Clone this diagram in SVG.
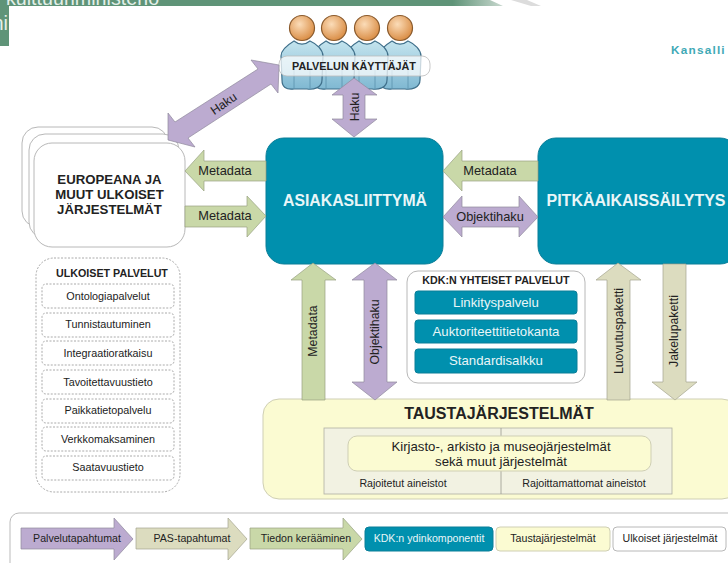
<svg xmlns="http://www.w3.org/2000/svg" width="728" height="563" viewBox="0 0 728 563">
<style>
text{font-family:"Liberation Sans",Arial,sans-serif;text-anchor:middle;fill:#222}
.b{font-weight:bold}
.w{fill:#e9f6f8}
.teal{fill:#0090ae;stroke:#0b7e98;stroke-width:1}
.pur{fill:#bcabd0;stroke:#8f8a9c;stroke-width:.7}
.grn{fill:#c9d8a8;stroke:#98a283;stroke-width:.7}
.tan{fill:#dcdcbf;stroke:#a5a58f;stroke-width:.7}
.lab{font-size:12.3px}
.lah{font-size:12.8px}
.svc{fill:#fff;stroke:#aaa;stroke-width:1;stroke-dasharray:2 1.5}
.itm{font-size:10.8px}
.sta{fill:#fff;stroke:#b8b8b8;stroke-width:1}
.yel{fill:#fbfbd2;stroke:#cfcfb4;stroke-width:1}
.leg{font-size:10.6px}
.kdk{font-size:13.2px}
</style>
<defs>
<radialGradient id="head" cx=".4" cy=".35" r=".7"><stop offset="0" stop-color="#fbdcb8"/><stop offset="1" stop-color="#d8893f"/></radialGradient>
<linearGradient id="body" x1="0" x2="0" y1="0" y2="1"><stop offset="0" stop-color="#c4e4ee"/><stop offset="1" stop-color="#7fb8d2"/></linearGradient>
<linearGradient id="fade" x1="0" x2="1" y1="0" y2="0"><stop offset="0" stop-color="#5f9478"/><stop offset=".9" stop-color="#5f9478"/><stop offset="1" stop-color="#c9d8cf"/></linearGradient>
<g id="person">
<path d="M-21 14C-21 7-13 2-8-1C-3 3 3 3 8-1C15 2 21 8 21 14L20 38C20 46 11 48 5 47L-8 47C-16 48-20 45-20 38Z" fill="url(#body)" stroke="#3f6f8a" stroke-width="1.2"/>
<path d="M-8 47V28M8 47V28" fill="none" stroke="#5a92ad" stroke-width=".8"/>
<circle cx="0" cy="-14" r="12.5" fill="url(#head)" stroke="#8a5a2c" stroke-width="1.2"/>
</g>
</defs>
<rect width="728" height="563" fill="#fff"/>
<g id="header">
<path d="M0 0H490L503 6H9V46H0Z" fill="url(#fade)"/>
<polygon points="511,0 527,0 541,6 531,6" fill="#dcdcdc"/>
<text x="82.5" y="5" font-size="19.7" style="fill:#e3efe8">kulttuuriministeriö</text>
<text x="8" y="30" font-size="20" style="fill:#e3efe8;text-anchor:end">ni</text>
<text x="671" y="54" font-size="11.8" class="b" letter-spacing="1.2" style="fill:#3fa9b6;text-anchor:start">Kansalli</text>
</g>
<g id="users">
<use href="#person" x="400" y="42"/>
<use href="#person" x="367" y="42"/>
<use href="#person" x="334" y="42"/>
<use href="#person" x="302" y="42"/>
<rect x="279" y="56" width="151" height="20" rx="8" fill="#fff" fill-opacity=".72" stroke="#bbb" stroke-width=".8"/>
<text x="354" y="70" font-size="10.8" class="b">PALVELUN KÄYTTÄJÄT</text>
</g>
<g id="europeana">
<rect class="sta" x="22" y="127" width="146" height="100" rx="16"/>
<rect class="sta" x="29" y="134" width="150" height="104" rx="16"/>
<rect class="sta" x="34" y="143" width="151" height="104" rx="18"/>
<text x="109.500" y="184" font-size="13.2" class="b">EUROPEANA JA</text>
<text x="109.500" y="199" font-size="13.2" class="b">MUUT ULKOISET</text>
<text x="109.500" y="214" font-size="13.2" class="b">JÄRJESTELMÄT</text>
</g>
<g id="asiakasliittyma">
<rect class="teal" x="266" y="138" width="177" height="126" rx="18"/>
<text class="b w" x="355" y="206" font-size="15.8">ASIAKASLIITTYMÄ</text>
</g>
<g id="pitkaaikaissailytys">
<rect class="teal" x="538" y="138" width="200" height="126" rx="18"/>
<text class="b w" x="636" y="206" font-size="16">PITKÄAIKAISSÄILYTYS</text>
</g>
<g id="ulkoiset-palvelut">
<rect class="svc" x="36" y="258" width="144" height="234" rx="18"/>
<text x="112" y="277" font-size="10.7" class="b">ULKOISET PALVELUT</text>
<rect class="svc" x="42" y="284" width="132" height="24" rx="4"/><text class="itm" x="108" y="300">Ontologiapalvelut</text>
<rect class="svc" x="42" y="313" width="132" height="24" rx="4"/><text class="itm" x="108" y="328">Tunnistautuminen</text>
<rect class="svc" x="42" y="341" width="132" height="24" rx="4"/><text class="itm" x="108" y="357">Integraatioratkaisu</text>
<rect class="svc" x="42" y="370" width="132" height="24" rx="4"/><text class="itm" x="108" y="386">Tavoitettavuustieto</text>
<rect class="svc" x="42" y="399" width="132" height="24" rx="4"/><text class="itm" x="108" y="414">Paikkatietopalvelu</text>
<rect class="svc" x="42" y="427" width="132" height="24" rx="4"/><text class="itm" x="108" y="443">Verkkomaksaminen</text>
<rect class="svc" x="42" y="456" width="132" height="24" rx="4"/><text class="itm" x="108" y="471">Saatavuustieto</text>
</g>
<g id="kdk-palvelut">
<rect class="sta" x="407" y="271" width="178" height="112" rx="11"/>
<text x="496" y="284" font-size="10.7" class="b">KDK:N YHTEISET PALVELUT</text>
<rect class="teal" x="415" y="291" width="162" height="23" rx="3"/><text class="w kdk" x="496" y="307">Linkityspalvelu</text>
<rect class="teal" x="415" y="320" width="162" height="23" rx="3"/><text class="w kdk" x="496" y="336">Auktoriteettitietokanta</text>
<rect class="teal" x="415" y="349" width="162" height="24" rx="3"/><text class="w kdk" x="496" y="365">Standardisalkku</text>
</g>
<g id="taustajarjestelmat">
<rect class="yel" x="263" y="399" width="475" height="100" rx="16"/>
<text x="499" y="419" font-size="16" class="b">TAUSTAJÄRJESTELMÄT</text>
<rect x="324" y="428" width="348" height="66" fill="#f2f2e2" stroke="#b0b0a4" stroke-width=".8"/>
<path d="M501 428V494" stroke="#9a9a90" stroke-width=".8"/>
<rect class="yel" x="348" y="436" width="303" height="35" rx="9"/>
<text x="501" y="451" font-size="13.2">Kirjasto-, arkisto ja museojärjestelmät</text>
<text x="501" y="466" font-size="13.2">sekä muut järjestelmät</text>
<text x="403" y="487" font-size="10.6">Rajoitetut aineistot</text>
<text x="584" y="487" font-size="10.7">Rajoittamattomat aineistot</text>
</g>
<g id="connectors">
<polygon class="pur" points="168,140 168,113 175,122 258,69 251,60 279,65 278,93 271,84 188,138 195,147"/>
<text class="lab" transform="translate(226,107) rotate(-35)">Haku</text>
<polygon class="pur" points="354,78 377,95 365,95 365,119 377,119 354,137 332,119 343,119 343,95 332,95"/>
<text class="lab" transform="translate(359,107) rotate(-90)">Haku</text>
<polygon class="grn" points="185,171 204,150 204,161 266,161 266,181 204,181 204,191"/>
<text class="lah" x="225" y="175">Metadata</text>
<polygon class="grn" points="266,216 247,196 247,206 185,206 185,227 247,227 247,237"/>
<text class="lah" x="225" y="220">Metadata</text>
<polygon class="grn" points="443,171 462,150 462,161 538,161 538,181 462,181 462,191"/>
<text class="lah" x="490" y="175">Metadata</text>
<polygon class="pur" points="443,217 462,196 462,207 519,207 519,196 538,217 519,237 519,227 462,227 462,237"/>
<text class="lah" x="490" y="221">Objektihaku</text>
<polygon class="grn" points="313,263 336,280 325,280 325,400 302,400 302,280 291,280"/>
<text class="lab" transform="translate(317,331) rotate(-90)">Metadata</text>
<polygon class="pur" points="375,263 397,280 387,280 387,382 397,382 375,400 352,382 364,382 364,280 352,280"/>
<text class="lab" transform="translate(379,332) rotate(-90)">Objektihaku</text>
<polygon class="tan" points="618,263 641,280 630,280 630,400 607,400 607,280 596,280"/>
<text class="lab" transform="translate(623,331) rotate(-90)">Luovutuspaketti</text>
<polygon class="tan" points="663,264 686,264 686,382 697,382 675,400 652,382 663,382"/>
<text class="lab" transform="translate(678,331) rotate(-90)">Jakelupaketti</text>
</g>
<g id="legend">
<rect x="10" y="513" width="730" height="62" rx="9" fill="#fff" stroke="#bbb" stroke-width="1"/>
<polygon class="pur" points="21,528 114,528 114,518 133,539 114,560 114,549 21,549"/>
<text class="leg" x="77" y="542">Palvelutapahtumat</text>
<polygon class="tan" points="136,528 228,528 228,518 247,539 228,560 228,549 136,549"/>
<text class="leg" x="192" y="542">PAS-tapahtumat</text>
<polygon class="grn" points="250,528 343,528 343,518 362,539 343,560 343,549 250,549"/>
<text class="leg" x="306" y="542">Tiedon kerääminen</text>
<rect class="teal" x="365" y="527" width="128" height="24" rx="4"/>
<text class="w leg" x="429" y="542">KDK:n ydinkomponentit</text>
<rect class="yel" x="496" y="527" width="114" height="24" rx="4"/>
<text class="leg" x="553" y="542">Taustajärjestelmät</text>
<rect class="sta" x="613" y="527" width="113" height="24" rx="4"/>
<text class="leg" x="670" y="542">Ulkoiset järjestelmät</text>
</g>
</svg>
